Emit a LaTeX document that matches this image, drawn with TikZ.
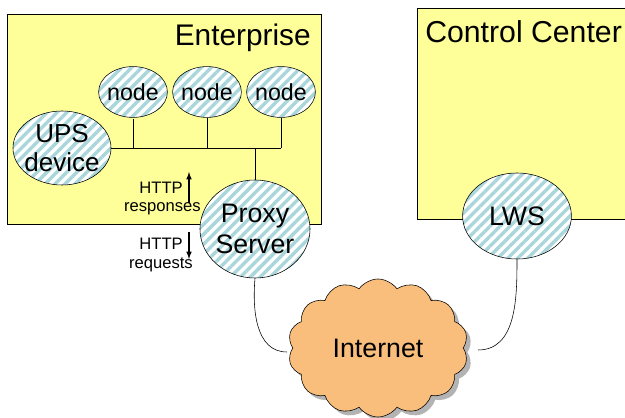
\documentclass[tikz,border=0pt]{standalone}
\usepackage{fontspec}
\setmainfont{Liberation Sans}
\usetikzlibrary{patterns.meta,shapes.geometric,shapes.symbols,shadows}

\definecolor{siteyellow}{HTML}{FFFF99}
\definecolor{hoststripe}{HTML}{A9D6DB}
\definecolor{netorange}{HTML}{F9BE7C}

\tikzset{
  site/.style={draw, fill=siteyellow, line width=0.5pt},
  host/.style={ellipse, draw, line width=0.4pt, inner sep=-3pt,
    preaction={fill=white},
    pattern={Lines[angle=45,distance=5pt,line width=2.4pt]},
    pattern color=hoststripe},
  note/.style={inner sep=0pt, font=\fontsize{11.8}{12}\selectfont}
}

\begin{document}
\begin{tikzpicture}[x=0.025cm,y=-0.025cm]
      \clip (0,0) rectangle (625,418);
      % the two sites
      \draw [site] (7,14) rectangle (321,224);
      \draw [site] (417,8) rectangle (640,219);
      \node (enttitle) [anchor=east, inner sep=0pt, font=\fontsize{21.2}{23}\selectfont] at (311,38) {Enterprise};
      \node (cctitle) [anchor=west, inner sep=0pt, font=\fontsize{21.5}{23}\selectfont] at (425,32) {Control Center};

      % hosts on the enterprise LAN
      \node (n1) [host, minimum width=1.72cm, minimum height=1.27cm, font=\fontsize{16.5}{17}\selectfont] at (133,92) {node};
      \node (n2) [host, minimum width=1.72cm, minimum height=1.27cm, font=\fontsize{16.5}{17}\selectfont] at (207,92) {node};
      \node (n3) [host, minimum width=1.72cm, minimum height=1.27cm, font=\fontsize{16.5}{17}\selectfont] at (281,92) {node};
      \node (ups) [host, minimum width=2.45cm, minimum height=1.85cm, align=center, font=\fontsize{18.5}{21}\selectfont] at (62,148) {UPS\\device};
      \node (proxy) [host, minimum width=2.75cm, minimum height=2.45cm, align=center, font=\fontsize{19}{22}\selectfont] at (255,229) {Proxy\\Server};
      \node (lws) [host, minimum width=2.72cm, minimum height=2.15cm, font=\fontsize{19}{20}\selectfont] at (517,216) {LWS};

      % LAN bus
      \draw (ups.east) -- (n3 |- ups.east);
      \draw (n1.south) -- (n1 |- ups.east);
      \draw (n2.south) -- (n2 |- ups.east);
      \draw (n3.south) -- (n3 |- ups.east);
      \draw (proxy.north) -- (proxy |- ups.east);

      % HTTP traffic labels
      \node (resphttp) [note, anchor=east] at (183,188) {HTTP};
      \node (resp) [note, anchor=east] at (201,209) {responses};
      \node (reqhttp) [note, anchor=east] at (183,244) {HTTP};
      \node (req) [note, anchor=east] at (193,265) {requests};
      \coordinate (upbot) at (189,203);
      \coordinate (uptop) at (189,172);
      \coordinate (downtop) at (189,232);
      \coordinate (downbot) at (189,259);
      \draw [-latex, line width=0.8pt] (upbot) -- (uptop);
      \draw [-latex, line width=0.8pt] (downtop) -- (downbot);

      % the internet
      \node (net) [cloud, cloud puffs=14, cloud puff arc=110, aspect=1.3, draw,
        fill=netorange, drop shadow={shadow xshift=3pt, shadow yshift=-3pt, opacity=0.6},
        minimum width=4.5cm, minimum height=3.45cm, font=\fontsize{19}{21}\selectfont] at (378,348) {Internet};
      \coordinate (netleft) at (287,352);
      \coordinate (netright) at (478,350);
      \draw (proxy.south) to [out=-95, in=180] (netleft);
      \draw (lws.south) to [out=-90, in=0] (netright);
\end{tikzpicture}
\end{document}
